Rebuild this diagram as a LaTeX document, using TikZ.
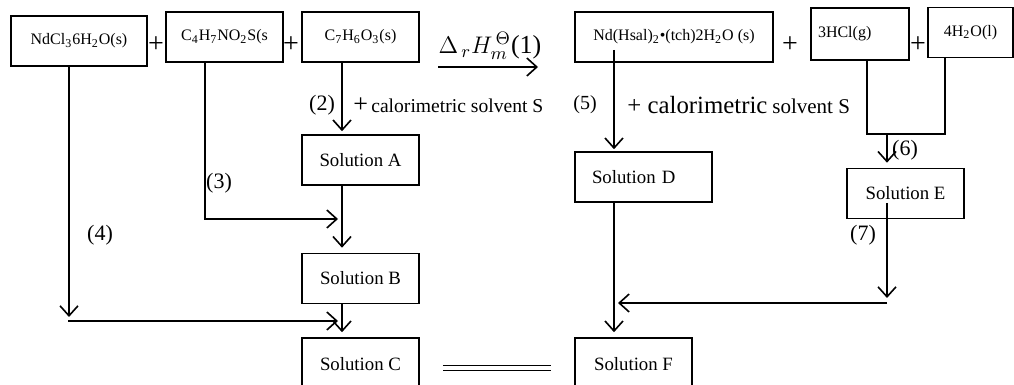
\documentclass[tikz,border=0pt]{standalone}
\usepackage{fontspec}
\setmainfont{Liberation Serif}
\usepackage{tikz}
\usetikzlibrary{calc}
\usetikzlibrary{arrows.meta}

\tikzset{
  box/.style    = {draw, line width=0.8pt, minimum height=25pt, inner sep=0pt,
                   font=\fontsize{8}{9.6}\selectfont},
  solbox/.style = {box, font=\fontsize{9.4}{11}\selectfont},
  flow/.style   = {line width=0.8pt, -{Straight Barb[length=5pt,width=9pt,line width=0.8pt]}},
  link/.style   = {line width=0.8pt},
  stage/.style  = {inner sep=0pt, font=\fontsize{11}{13}\selectfont},
  plus/.style   = {inner sep=0pt, font=\fontsize{14}{14}\selectfont},
}

\begin{document}
\begin{tikzpicture}[x=0.5pt, y=-0.5pt]
            \useasboundingbox                                                 (0,0) rectangle (1014,385);
            % Reactants
            \node[box, minimum width=68pt]                  (nd)    at ( 79.0, 41.0) {NdCl\textsubscript{3}6H\textsubscript{2}O(s)};
            \node[box, minimum width=58.5pt]                (cys)   at (224.5, 37.0) {C\textsubscript{4}H\textsubscript{7}NO\textsubscript{2}S(s};
            \node[box, minimum width=58.5pt]                (sal)   at (360.5, 37.0) {C\textsubscript{7}H\textsubscript{6}O\textsubscript{3}(s)};
            \node[plus]                                     (p1)    at (156, 45) {+};
            \node[plus]                                     (p2)    at (291, 45) {+};
            % Products
            \node[box, minimum width=99pt]                  (cplx)  at (674.0, 37.0) {Nd(Hsal)\textsubscript{2}\textbullet(tch)2H\textsubscript{2}O (s)};
            \node[box, minimum height=26pt, inner xsep=3.5pt, text width=42pt, align=left]
                                                            (hcl)   at (860.0, 34.0) {3HCl(g)};
            \node[box, minimum width=42.5pt]                (water) at (970.5, 32.5) {4H\textsubscript{2}O(l)};
            \node[plus]                                     (p3)    at (790, 45) {+};
            \node[plus]                                     (p4)    at (918, 45) {+};
            % Solutions
            \node[solbox, minimum width=58.5pt]             (solA)  at (360.5, 160.0) {Solution A};
            \node[solbox, minimum width=58.5pt]             (solB)  at (360.5, 278.5) {Solution B};
            \node[solbox, minimum width=58.5pt, minimum height=26pt]
                                                            (solC)  at (360.5, 364.0) {Solution C};
            \node[solbox, inner xsep=8.5pt, text width=51.5pt, align=left]
                                                            (solD)  at (643.5, 177.0) {Solution D};
            \node[solbox, minimum width=58.5pt]             (solE)  at (905.5, 193.5) {Solution E};
            \node[solbox, minimum width=58.5pt, minimum height=26pt]
                                                            (solF)  at (633.5, 364.0) {Solution F};
            % Reaction arrow (1)
            \coordinate (r1) at (438, 67);
            \coordinate (r2) at (538, 67);
            \draw[flow]                                                       (r1) -- (r2);
            \node[font=\fontsize{13}{15}\selectfont, inner sep=0pt, anchor=south] (dH) at (490, 60)
                 {$\Delta_{\,r} H_{m}^{\,\Theta}$(1)};
            % Left column: A -> B -> C
            \coordinate (colA) at (342, 0);
            \draw[flow, shorten >=1.5pt]                                      (sal.south -| colA) -- (solA.north -| colA);
            \draw[flow, shorten >=2.5pt]                                      (solA.south -| colA) -- (solB.north -| colA);
            \draw[flow, shorten >=2.5pt]                                      (solB.south -| colA) -- (solC.north -| colA);
            \node[stage]                                    (n2)    at (322, 105) {(2)};
            \node[anchor=west, inner sep=0pt, font=\fontsize{9.8}{12}\selectfont]
                                                            (solv2) at (353, 105) {{\fontsize{13}{13}\selectfont+}\,calorimetric solvent S};
            % (3) and (4)
            \coordinate (k3) at (205, 219);
            \draw[flow, shorten >=2pt]                                        (cys.south -| k3) -- (k3) -- (k3 -| colA);
            \node[stage]                                    (n3)    at (219, 183) {(3)};
            \coordinate (k4) at (69, 317);
            \coordinate (h4) at (68, 321);
            \draw[flow]                                                       (nd.south -| k4) -- (k4);
            \draw[flow, shorten >=2pt]                                        (h4) -- (h4 -| colA);
            \node[stage]                                    (n4)    at (100, 235) {(4)};
            % Right column: D -> F
            \coordinate (colD) at (614, 0);
            \coordinate (k5)   at (614, 50);
            \draw[flow, shorten >=1pt]                                        (k5) -- (solD.north -| colD);
            \draw[flow, shorten >=2.5pt]                                      (solD.south -| colD) -- (solF.north -| colD);
            \node[stage, font=\fontsize{10}{12}\selectfont] (n5)    at (585, 105) {(5)};
            \node[anchor=west, inner sep=0pt]               (solv5) at (627, 105)
                 {{\fontsize{12.4}{14}\selectfont + calorimetric} {\fontsize{10.5}{12}\selectfont solvent S}};
            % (6) and (7)
            \coordinate (l6) at (867, 134);
            \coordinate (r6) at (945, 134);
            \coordinate (m6) at (887, 134);
            \draw[link]                                                       (hcl.south -| l6) -- (l6) -- (r6) -- (water.south -| r6);
            \draw[flow, shorten >=2.5pt]                                      (m6) -- (solE.north -| m6);
            \node[stage]                                    (n6)    at (905, 150) {(6)};
            \coordinate (k7) at (887, 203);
            \coordinate (e7) at (887, 298);
            \coordinate (h7) at (887, 303);
            \draw[flow]                                                       (k7) -- (e7);
            \draw[flow, shorten >=2pt]                                        (h7) -- (h7 -| colD);
            \node[stage]                                    (n7)    at (863, 235) {(7)};
            % C equals F
            \draw[double, double distance=2pt, line width=0.5pt, shorten <=11.5pt, shorten >=11.5pt]
                                                                              ([yshift=-2pt]solC.east) -- ([yshift=-2pt]solF.west);
\end{tikzpicture}
\end{document}
